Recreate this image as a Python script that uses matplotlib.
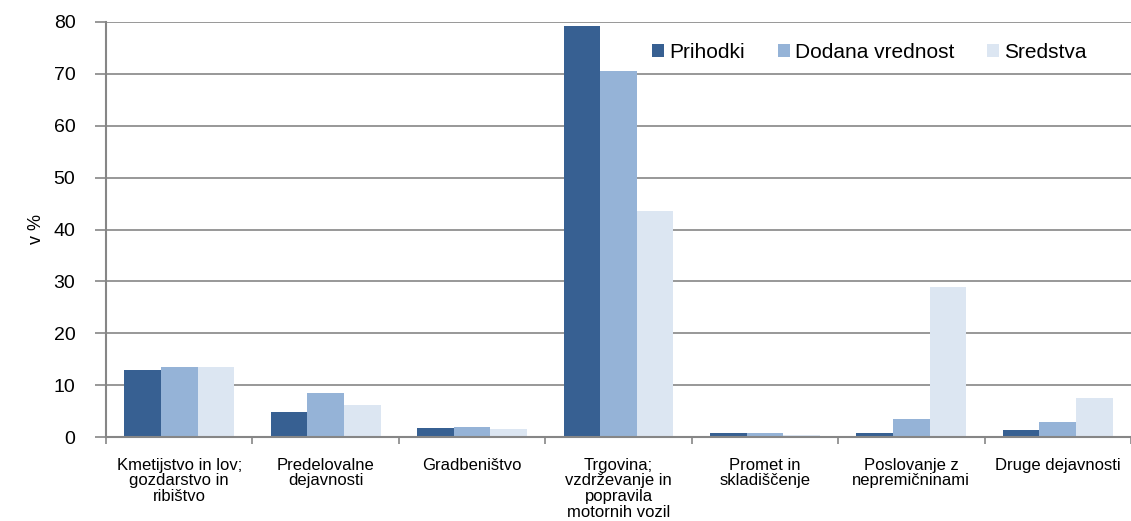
import matplotlib
matplotlib.use("Agg")
import matplotlib.pyplot as plt
import numpy as np

plt.rcParams['font.family'] = ['Liberation Sans', 'DejaVu Sans']

categories = ["Kmetijstvo in lov;\ngozdarstvo in\nribištvo",
              "Predelovalne\ndejavnosti",
              "Gradbeništvo",
              "Trgovina;\nvzdrževanje in\npopravila\nmotornih vozil",
              "Promet in\nskladiščenje",
              "Poslovanje z\nnepremičninami",
              "Druge dejavnosti"]
prihodki = [12.9, 4.8, 1.7, 79.2, 0.8, 0.7, 1.4]
dodana = [13.5, 8.5, 1.9, 70.5, 0.8, 3.4, 2.8]
sredstva = [13.5, 6.1, 1.6, 43.5, 0.3, 28.9, 7.5]
series = ["Prihodki", "Dodana vrednost", "Sredstva"]
colors = ["#376092", "#95b3d7", "#dce6f2"]

fig = plt.figure(figsize=(11.31, 5.21), dpi=100)
ax = fig.add_axes([106/1131, 1-437/521, 1-106/1131, (437-22)/521])

x = np.arange(len(categories))
w = 0.25
for i, (vals, name) in enumerate(zip([prihodki, dodana, sredstva], series)):
    ax.bar(x + (i-1)*w, vals, width=w, color=colors[i], label=name, zorder=2)

ax.set_xlim(-0.5, len(categories)-0.5)
ax.set_ylim(0, 80)
ax.set_yticks(range(0, 81, 10))
ax.yaxis.grid(True, color="#868686", linewidth=1.2, zorder=0)
ax.set_axisbelow(True)

ax.set_xticks(x)
ax.set_xticklabels(categories, fontsize=12, linespacing=1.05)
ax.tick_params(axis='x', which='major', length=0, pad=15)
ax.set_xticks(np.arange(-0.5, len(categories), 1), minor=True)
ax.tick_params(axis='x', which='minor', length=5, width=1.2, color="#868686")
ax.tick_params(axis='y', length=8, width=1.2, color="#868686", labelsize=14, pad=14)

for s in ["top", "right"]:
    ax.spines[s].set_visible(False)
for s in ["left", "bottom"]:
    ax.spines[s].set_color("#868686")
    ax.spines[s].set_linewidth(1.5)

ax.set_ylabel("v %", fontsize=13, labelpad=6)

ax.legend(loc="upper right", bbox_to_anchor=(0.975, 0.995), ncol=3, frameon=False,
          fontsize=15, handlelength=0.55, handleheight=0.6, handletextpad=0.25,
          columnspacing=1.6)

fig.savefig("out.png", dpi=100)
